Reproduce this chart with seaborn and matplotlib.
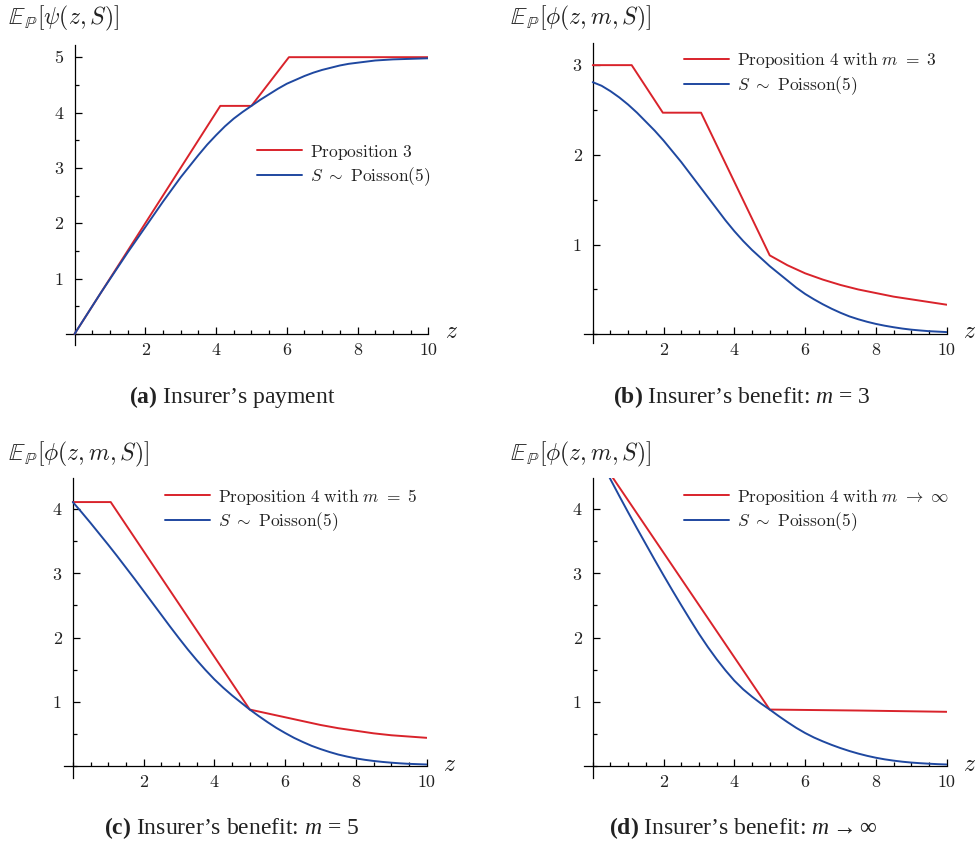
import numpy as np
import pandas as pd
import matplotlib
matplotlib.use("Agg")
import matplotlib.pyplot as plt
from matplotlib.ticker import MultipleLocator, FixedLocator, NullFormatter
import seaborn as sns

# ---------------- data ----------------
z_q = [0, 0.25, 0.5, 0.75, 1, 1.25, 1.5, 1.75, 2, 2.25, 2.5, 2.75, 3, 3.25, 3.5, 3.75,
       4, 4.25, 4.5, 4.75, 5, 5.25, 5.5, 5.75, 6, 6.25, 6.5, 6.75, 7, 7.25, 7.5, 7.75,
       8, 8.25, 8.5, 8.75, 9, 9.25, 9.5, 9.75, 10]

# (a) insurer's payment
a_red_z = [0, 4.12, 5.0, 6.06, 10]
a_red_y = [0, 4.12, 4.12, 5.0, 5.0]
a_blue_y = [0, 0.25, 0.5, 0.75, 0.99, 1.23, 1.47, 1.70, 1.93, 2.16, 2.39, 2.61, 2.83, 3.03,
            3.23, 3.42, 3.59, 3.75, 3.89, 4.01, 4.12, 4.23, 4.33, 4.43, 4.52, 4.59, 4.66,
            4.72, 4.77, 4.81, 4.85, 4.88, 4.90, 4.92, 4.94, 4.95, 4.96, 4.965, 4.97, 4.975, 4.98]

# (b) insurer's benefit m = 3
b_red_z = [0, 1.1, 1.98, 3.06, 5.0, 5.5, 6, 6.5, 7, 7.5, 8, 8.5, 9, 9.5, 10]
b_red_y = [3.0, 3.0, 2.47, 2.47, 0.88, 0.77, 0.68, 0.61, 0.55, 0.50, 0.46, 0.42, 0.39, 0.36, 0.33]
b_blue_y = [2.81, 2.77, 2.71, 2.64, 2.56, 2.47, 2.37, 2.27, 2.16, 2.04, 1.92, 1.79, 1.66, 1.53,
            1.40, 1.27, 1.15, 1.04, 0.94, 0.85, 0.76, 0.68, 0.60, 0.52, 0.45, 0.39, 0.335,
            0.285, 0.24, 0.20, 0.168, 0.14, 0.116, 0.096, 0.079, 0.064, 0.052, 0.043, 0.035, 0.03, 0.025]

# (c) insurer's benefit m = 5
c_red_z = [0, 1.07, 5.0, 5.5, 6, 6.5, 7, 7.5, 8, 8.5, 9, 9.5, 10]
c_red_y = [4.11, 4.11, 0.88, 0.82, 0.76, 0.70, 0.64, 0.59, 0.55, 0.51, 0.48, 0.46, 0.44]
c_blue_y = [4.11, 3.95, 3.785, 3.615, 3.445, 3.27, 3.09, 2.91, 2.725, 2.54, 2.355, 2.17, 1.99,
            1.815, 1.65, 1.495, 1.35, 1.22, 1.10, 0.99, 0.88, 0.78, 0.685, 0.595, 0.515, 0.44,
            0.375, 0.315, 0.265, 0.22, 0.18, 0.148, 0.12, 0.098, 0.08, 0.065, 0.053, 0.043,
            0.035, 0.03, 0.025]

# (d) insurer's benefit m -> infinity
d_red_z = [0, 5.0, 7.5, 10]
d_red_y = [4.95, 0.88, 0.865, 0.845]
d_blue_y = [5.0, 4.73, 4.465, 4.205, 3.95, 3.70, 3.455, 3.21, 2.97, 2.735, 2.505, 2.28, 2.06,
            1.855, 1.665, 1.49, 1.33, 1.195, 1.08, 0.975, 0.88, 0.78, 0.685, 0.595, 0.515,
            0.445, 0.385, 0.33, 0.28, 0.235, 0.195, 0.16, 0.13, 0.105, 0.085, 0.068, 0.055,
            0.045, 0.037, 0.03, 0.025]

ylabels = [r"$\mathbb{E}_{\mathbb{P}}[\psi(z,S)]$", r"$\mathbb{E}_{\mathbb{P}}[\phi(z,m,S)]$",
           r"$\mathbb{E}_{\mathbb{P}}[\phi(z,m,S)]$", r"$\mathbb{E}_{\mathbb{P}}[\phi(z,m,S)]$"]
red_labels = [r"$\mathrm{Proposition\ 3}$",
              r"$\mathrm{Proposition\ 4\ with\ }m\ =\ 3$",
              r"$\mathrm{Proposition\ 4\ with\ }m\ =\ 5$",
              r"$\mathrm{Proposition\ 4\ with\ }m\ \rightarrow\ \infty$"]
blue_label = r"$S\ \sim\ \mathrm{Poisson}(5)$"
captions = [r"$\mathbf{(a)}$ Insurer’s payment",
            r"$\mathbf{(b)}$ Insurer’s benefit: $m$ = 3",
            r"$\mathbf{(c)}$ Insurer’s benefit: $m$ = 5",
            r"$\mathbf{(d)}$ Insurer’s benefit: $m \rightarrow \infty$"]

# ---------------- style ----------------
sns.set_theme(style="white")
plt.rcParams["font.family"] = ["Liberation Serif", "DejaVu Serif"]
plt.rcParams["mathtext.fontset"] = "custom"
plt.rcParams["mathtext.rm"] = "Liberation Serif"
plt.rcParams["mathtext.it"] = "Liberation Serif:italic"
plt.rcParams["mathtext.bf"] = "Liberation Serif:bold"

RED = "#d9232b"
BLUE = "#1f48a0"

W, H = 978, 846
fig = plt.figure(figsize=(W / 100, H / 100), dpi=100)


def px_axes(left, right, top, bottom):
    return fig.add_axes([left / W, 1 - bottom / H, (right - left) / W, (bottom - top) / H])


panels = [
    dict(box=(65.7, 428.3, 45, 345), ylim=(-0.2, 5.22), yticks=[1, 2, 3, 4, 5],
         red=(a_red_z, a_red_y), blue=a_blue_y,
         ylab=(8, 18), zlab=(452, 333), cap=(232, 397), leg=(256.7, 142.5)),
    dict(box=(583.9, 946.7, 42.7, 343.3), ylim=(-0.1, 3.25), yticks=[1, 2, 3],
         red=(b_red_z, b_red_y), blue=b_blue_y,
         ylab=(510, 18), zlab=(970, 333), cap=(742, 397), leg=(684.3, 50.5)),
    dict(box=(64, 426.7, 478.3, 778.3), ylim=(-0.19, 4.48), yticks=[1, 2, 3, 4],
         red=(c_red_z, c_red_y), blue=c_blue_y,
         ylab=(8, 454), zlab=(450, 765), cap=(232, 828), leg=(165, 486.5)),
    dict(box=(583.9, 946.7, 478.3, 778.3), ylim=(-0.19, 4.48), yticks=[1, 2, 3, 4],
         red=(d_red_z, d_red_y), blue=d_blue_y,
         ylab=(510, 454), zlab=(970, 765), cap=(743, 828), leg=(684.3, 486.5)),
]

for i, p in enumerate(panels):
    ax = px_axes(*p["box"])
    df_red = pd.DataFrame({"z": p["red"][0], "v": p["red"][1]})
    df_blue = pd.DataFrame({"z": z_q, "v": p["blue"]})
    sns.lineplot(data=df_red, x="z", y="v", ax=ax, color=RED, lw=1.4,
                 label=red_labels[i], sort=False, zorder=3)
    sns.lineplot(data=df_blue, x="z", y="v", ax=ax, color=BLUE, lw=1.4,
                 label=blue_label, sort=False, zorder=3)
    ax.set_xlim(-0.25, 10)
    ax.set_ylim(*p["ylim"])
    ax.set_xlabel("")
    ax.set_ylabel("")
    for s in ["top", "right"]:
        ax.spines[s].set_visible(False)
    for s in ["left", "bottom"]:
        ax.spines[s].set_position(("data", 0))
        ax.spines[s].set_color("black")
        ax.spines[s].set_linewidth(0.9)
    ax.set_facecolor("none")
    ax.xaxis.set_major_locator(FixedLocator([2, 4, 6, 8, 10]))
    ax.xaxis.set_minor_locator(MultipleLocator(0.5))
    ax.yaxis.set_major_locator(FixedLocator(p["yticks"]))
    ax.yaxis.set_minor_locator(MultipleLocator(0.5))
    ax.xaxis.set_minor_formatter(NullFormatter())
    ax.yaxis.set_minor_formatter(NullFormatter())
    ax.tick_params(which="major", direction="in", length=5, width=0.9, color="black",
                   labelsize=13, pad=6, labelcolor="#222222",
                   bottom=True, left=True, top=False, right=False)
    ax.tick_params(axis="y", which="major", pad=8)
    ax.tick_params(which="minor", direction="in", length=3, width=0.9, color="black",
                   bottom=True, left=True, top=False, right=False)
    for t in ax.get_xticklabels() + ax.get_yticklabels():
        t.set_fontfamily("cmr10")

    leg = ax.legend(loc="upper left", bbox_to_anchor=(p["leg"][0] / W, 1 - p["leg"][1] / H),
                    bbox_transform=fig.transFigure, frameon=False, fontsize=12.5,
                    borderpad=0, borderaxespad=0, handlelength=2.6, handletextpad=0.45,
                    labelspacing=0.22)
    for t in leg.get_texts():
        t.set_math_fontfamily("cm")
        t.set_color("#222222")
    for ln in leg.get_lines():
        ln.set_linewidth(1.4)

    fig.text(p["ylab"][0] / W, 1 - p["ylab"][1] / H, ylabels[i], fontsize=17,
             ha="left", va="center", math_fontfamily="cm", color="#222222")
    fig.text(p["zlab"][0] / W, 1 - p["zlab"][1] / H, r"$z$", fontsize=17,
             ha="center", va="center", math_fontfamily="cm", color="#222222")
    fig.text(p["cap"][0] / W, 1 - p["cap"][1] / H, captions[i], fontsize=17,
             ha="center", va="center", color="#222222")

fig.savefig("out.png", dpi=100)
